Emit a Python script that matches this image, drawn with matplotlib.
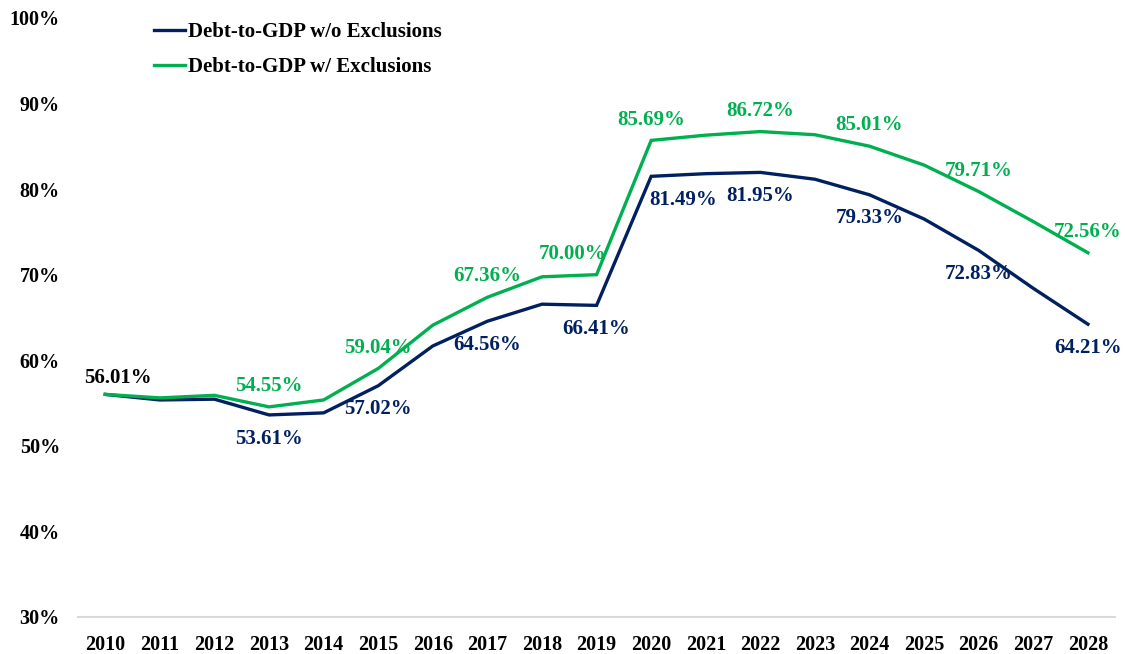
import matplotlib.pyplot as plt
from matplotlib.lines import Line2D

plt.rcParams['font.family'] = ['Liberation Serif', 'DejaVu Serif']
plt.rcParams['font.weight'] = 'bold'

years = list(range(2010, 2029))
debt_wo = [56.01, 55.36, 55.45, 53.61, 53.85, 57.02, 61.67, 64.56, 66.55, 66.41,
           81.49, 81.80, 81.95, 81.15, 79.33, 76.50, 72.83, 68.40, 64.21]
debt_w = [56.01, 55.60, 55.90, 54.55, 55.36, 59.04, 64.10, 67.36, 69.75, 70.00,
          85.69, 86.30, 86.72, 86.35, 85.01, 82.80, 79.71, 76.20, 72.56]

# years that carry a value label (navy below the line, green above)
label_years = [2013, 2015, 2017, 2019, 2020, 2022, 2024, 2026, 2028]

NAVY = '#002060'
GREEN = '#00B050'

fig = plt.figure(figsize=(11.25, 6.54), dpi=100)
ax = fig.add_axes([0.0693, 0.0566, 0.922, 0.916])

x = list(range(len(years)))
ax.plot(x, debt_wo, color=NAVY, lw=2.4, solid_joinstyle='miter')
ax.plot(x, debt_w, color=GREEN, lw=2.4, solid_joinstyle='miter')

fs = 15
# shared starting point, drawn in black
ax.annotate(f'{debt_wo[0]:.2f}%', (0, debt_wo[0]), xytext=(9, 12),
            textcoords='offset points', ha='center', va='center',
            fontsize=fs, fontweight='bold', color='black')

for yr in label_years:
    i = years.index(yr)
    dx = 23 if yr == 2020 else 0
    ax.annotate(f'{debt_wo[i]:.2f}%', (i, debt_wo[i]), xytext=(dx, -17),
                textcoords='offset points', ha='center', va='center',
                fontsize=fs, fontweight='bold', color=NAVY)
    dx = -17 if yr == 2019 else 0
    ax.annotate(f'{debt_w[i]:.2f}%', (i, debt_w[i]), xytext=(dx, 15),
                textcoords='offset points', ha='center', va='center',
                fontsize=fs, fontweight='bold', color=GREEN)

ax.set_xlim(-0.5, len(years) - 0.5)
ax.set_ylim(30, 100)
ax.set_xticks(x)
ax.set_xticklabels([str(y) for y in years])
ax.set_yticks(range(30, 101, 10))
ax.set_yticklabels([f'{v}%' for v in range(30, 101, 10)])
ax.tick_params(axis='both', length=0, labelsize=14.5)
ax.tick_params(axis='x', pad=13)
ax.tick_params(axis='y', pad=13)
for lab in ax.get_xticklabels() + ax.get_yticklabels():
    lab.set_fontweight('bold')

for s in ['top', 'right', 'left']:
    ax.spines[s].set_visible(False)
ax.spines['bottom'].set_color('#D9D9D9')
ax.spines['bottom'].set_linewidth(1.5)

handles = [Line2D([], [], color=NAVY, lw=2.4), Line2D([], [], color=GREEN, lw=2.4)]
ax.legend(handles, ['Debt-to-GDP w/o Exclusions', 'Debt-to-GDP w/ Exclusions'],
          loc='upper left', bbox_to_anchor=(0.055, 1.024), frameon=False,
          prop={'size': fs, 'weight': 'bold'}, handlelength=1.5,
          handletextpad=0.15, labelspacing=0.7)

fig.savefig('out.png', dpi=100)
